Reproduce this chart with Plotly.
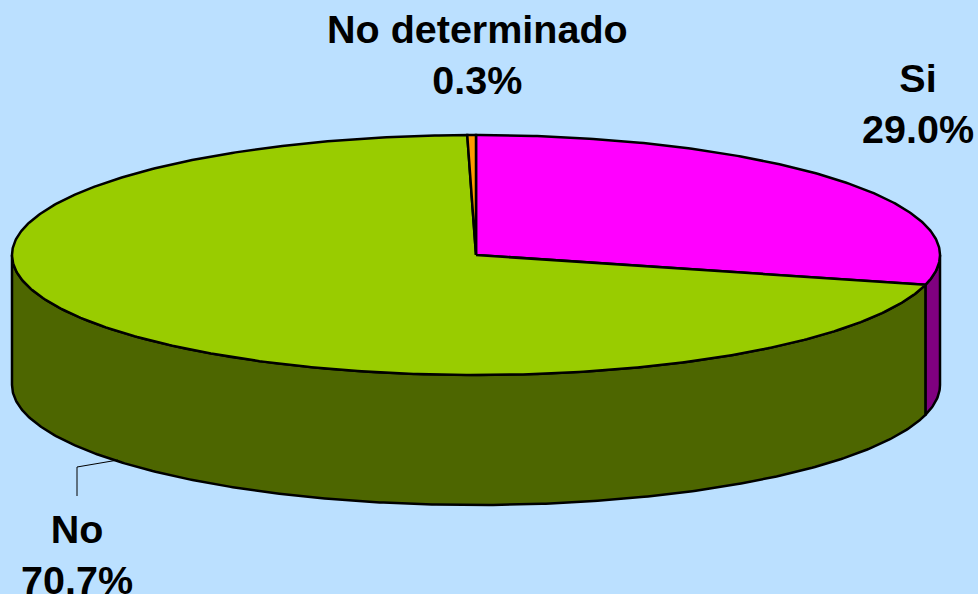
import numpy as np
import plotly.graph_objects as go

categories = ['Si', 'No', 'No determinado']
values = [29.0, 70.7, 0.3]
top_colors = ['#FF00FF', '#99CC00', '#FF9900']
side_colors = ['#800080', '#4D6600', '#804C00']

# pie geometry in page pixels
CX, CY = 476, 255
RX, RY = 464, 120
DEPTH = 130


def rim(start, end):
    # angles in degrees, clockwise from 12 o'clock
    n = max(int(abs(end - start)) * 2, 2)
    a = np.radians(np.linspace(start, end, n))
    return CX + RX * np.sin(a), CY - RY * np.cos(a)


def add_poly(fig, x, y, color):
    fig.add_trace(go.Scatter(x=list(x), y=list(y), mode='lines', fill='toself', fillcolor=color,
                             line=dict(color='black', width=2.5), hoverinfo='skip', showlegend=False))


fig = go.Figure()

# slice angles from the values
total = sum(values)
edges = np.cumsum([0] + values) / total * 360

# side walls, only the front half of the rim is visible
for i in range(len(values)):
    start, end = max(edges[i], 90), min(edges[i + 1], 270)
    if start < end:
        x, y = rim(start, end)
        add_poly(fig, np.r_[x, x[::-1], x[0]], np.r_[y, y[::-1] + DEPTH, y[0]], side_colors[i])

# top faces
for i in range(len(values)):
    x, y = rim(edges[i], edges[i + 1])
    add_poly(fig, np.r_[CX, x, CX], np.r_[CY, y, CY], top_colors[i])

# leader line of the No label
fig.add_trace(go.Scatter(x=[77, 77, 118], y=[496, 467, 460], mode='lines',
                         line=dict(color='black', width=1), hoverinfo='skip', showlegend=False))

label_pos = [(918, 103), (77, 554), (477, 54)]
for name, val, (lx, ly) in zip(categories, values, label_pos):
    fig.add_annotation(x=lx, y=ly, text=f'{name}<br>{val:.1f}%', showarrow=False,
                       font=dict(family='Liberation Sans', size=39.5, color='black', weight='bold'),
                       xanchor='center', yanchor='middle', align='center')

fig.update_xaxes(range=[0, 978], visible=False, fixedrange=True)
fig.update_yaxes(range=[594, 0], visible=False, fixedrange=True)
fig.update_layout(width=978, height=594, margin=dict(l=0, r=0, t=0, b=0),
                  paper_bgcolor='#BBE0FF', plot_bgcolor='#BBE0FF')
# page margin would push the chart 8px in
fig.write_html("out.html", config={'displayModeBar': False},
               post_script="document.body.style.margin='0';")
